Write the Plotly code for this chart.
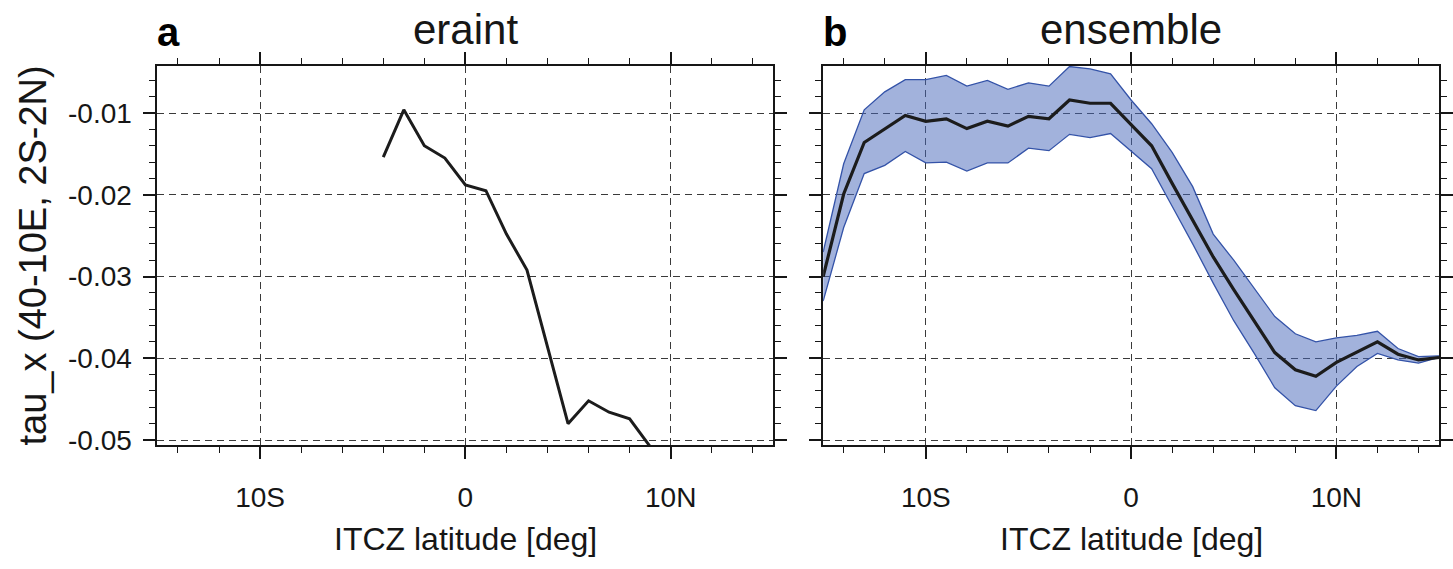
import plotly.graph_objects as go

# ---------------- data ----------------
lat_a = [-4, -3, -2, -1, 0, 1, 2, 3, 4, 5, 6, 7, 8, 9]
eraint = [-0.0154, -0.0096, -0.0140, -0.0155, -0.0188, -0.0195, -0.0248, -0.0292,
          -0.0386, -0.0480, -0.0452, -0.0466, -0.0474, -0.0508]

lat_b = list(range(-15, 16))
ens_mean = [-0.0300, -0.0199, -0.0136, -0.0120, -0.0103, -0.0110, -0.0107, -0.0119,
            -0.0110, -0.0116, -0.0104, -0.0107, -0.0084, -0.0088, -0.0088, -0.0114,
            -0.0140, -0.0186, -0.0231, -0.0276, -0.0316, -0.0355, -0.0393, -0.0414,
            -0.0422, -0.0405, -0.0392, -0.0380, -0.0395, -0.0402, -0.0399]
ens_upper = [-0.0270, -0.0162, -0.0096, -0.0074, -0.0059, -0.0059, -0.0054, -0.0067,
             -0.0060, -0.0071, -0.0063, -0.0067, -0.0043, -0.0046, -0.0052, -0.0084,
             -0.0113, -0.0148, -0.0190, -0.0248, -0.0280, -0.0315, -0.0349, -0.0370,
             -0.0380, -0.0375, -0.0372, -0.0367, -0.0388, -0.0398, -0.0397]
ens_lower = [-0.0330, -0.0240, -0.0174, -0.0164, -0.0147, -0.0161, -0.0160, -0.0171,
             -0.0161, -0.0161, -0.0143, -0.0146, -0.0126, -0.0130, -0.0125, -0.0146,
             -0.0168, -0.0214, -0.0260, -0.0308, -0.0354, -0.0394, -0.0436, -0.0458,
             -0.0464, -0.0434, -0.0410, -0.0394, -0.0402, -0.0406, -0.0399]

x_tickvals = [-10, 0, 10]
x_ticktext = ["10S", "0", "10N"]
y_tickvals = [-0.05, -0.04, -0.03, -0.02, -0.01]
y_ticktext = ["-0.05", "-0.04", "-0.03", "-0.02", "-0.01"]

panel_letters = ["a", "b"]
panel_titles = ["eraint", "ensemble"]
x_title = "ITCZ latitude [deg]"
y_title = "tau_x (40-10E, 2S-2N)"

# ---------------- style ----------------
W, H = 1453, 569
FONT = "Liberation Sans"
INK = "#161616"
LINE = "#1c1c1c"
BAND_FILL = "rgba(70,102,186,0.50)"
BAND_EDGE = "#3453a8"

dom_a = [158 / W, 776 / W]
dom_b = [826 / W, 1444 / W]
dom_y = [1 - 454 / H, 1 - 67.3 / H]

fig = go.Figure()

fig.add_trace(go.Scatter(x=lat_a, y=eraint, mode="lines",
                         line=dict(color=LINE, width=3),
                         xaxis="x", yaxis="y", showlegend=False))

fig.add_trace(go.Scatter(x=lat_b, y=ens_lower, mode="lines",
                         line=dict(color=BAND_EDGE, width=1.3),
                         xaxis="x2", yaxis="y2", showlegend=False))
fig.add_trace(go.Scatter(x=lat_b, y=ens_upper, mode="lines", fill="tonexty",
                         fillcolor=BAND_FILL,
                         line=dict(color=BAND_EDGE, width=1.3),
                         xaxis="x2", yaxis="y2", showlegend=False))
fig.add_trace(go.Scatter(x=lat_b, y=ens_mean, mode="lines",
                         line=dict(color=LINE, width=3.2),
                         xaxis="x2", yaxis="y2", showlegend=False))


def xaxis(domain, anchor):
    return dict(domain=domain, anchor=anchor, range=[-15, 15],
                tickmode="array", tickvals=x_tickvals, ticktext=x_ticktext,
                ticks="outside", ticklen=12, tickwidth=2, tickcolor=INK,
                showline=True, linecolor=INK, linewidth=2, mirror="ticks",
                showgrid=True, gridcolor="#3a3a3a", gridwidth=1, griddash="7px,5px",
                zeroline=False,
                minor=dict(ticks="outside", ticklen=6, tickwidth=1, tickcolor=INK,
                           tickmode="linear", tick0=0, dtick=2, showgrid=False),
                tickfont=dict(family=FONT, size=28, color=INK),
                ticklabelstandoff=14)


def yaxis(domain, anchor, labels):
    return dict(domain=domain, anchor=anchor, range=[-0.050636, -0.00424],
                tickmode="array", tickvals=y_tickvals, ticktext=y_ticktext,
                showticklabels=labels,
                ticks="outside", ticklen=12, tickwidth=2, tickcolor=INK,
                showline=True, linecolor=INK, linewidth=2, mirror="ticks",
                showgrid=True, gridcolor="#3a3a3a", gridwidth=1, griddash="7px,5px",
                zeroline=False,
                minor=dict(ticks="outside", ticklen=6, tickwidth=1, tickcolor=INK,
                           tickmode="linear", tick0=0, dtick=0.002, showgrid=False),
                tickfont=dict(family=FONT, size=28, color=INK),
                ticklabelstandoff=6)


annotations = []
centers = [(dom_a[0] + dom_a[1]) / 2, (dom_b[0] + dom_b[1]) / 2]
letter_x = [169 / W, 838 / W]
for i in range(2):
    annotations.append(dict(text="<b>%s</b>" % panel_letters[i], xref="paper", yref="paper",
                            x=letter_x[i], y=1 - 33 / H, xanchor="center", yanchor="middle",
                            showarrow=False, font=dict(family=FONT, size=40, color="#000")))
    annotations.append(dict(text=panel_titles[i], xref="paper", yref="paper",
                            x=centers[i], y=1 - 30 / H, xanchor="center", yanchor="middle",
                            showarrow=False, font=dict(family=FONT, size=42, color=INK)))
    annotations.append(dict(text=x_title, xref="paper", yref="paper",
                            x=centers[i], y=1 - 550 / H, xanchor="center", yanchor="middle",
                            showarrow=False, font=dict(family=FONT, size=32, color=INK)))
annotations.append(dict(text=y_title, xref="paper", yref="paper",
                        x=33 / W, y=(dom_y[0] + dom_y[1]) / 2, xanchor="center", yanchor="middle",
                        textangle=-90, showarrow=False,
                        font=dict(family=FONT, size=38, color=INK)))

fig.update_layout(
    width=W, height=H,
    margin=dict(l=0, r=0, t=0, b=0),
    paper_bgcolor="white", plot_bgcolor="white",
    xaxis=xaxis(dom_a, "y"), yaxis=yaxis(dom_y, "x", True),
    xaxis2=xaxis(dom_b, "y2"), yaxis2=yaxis(dom_y, "x2", False),
    annotations=annotations,
    showlegend=False,
)

fig.write_html("out.html",
               config={"displayModeBar": False},
               post_script="document.body.style.margin='0';document.body.style.padding='0';document.body.style.overflow='hidden';")
